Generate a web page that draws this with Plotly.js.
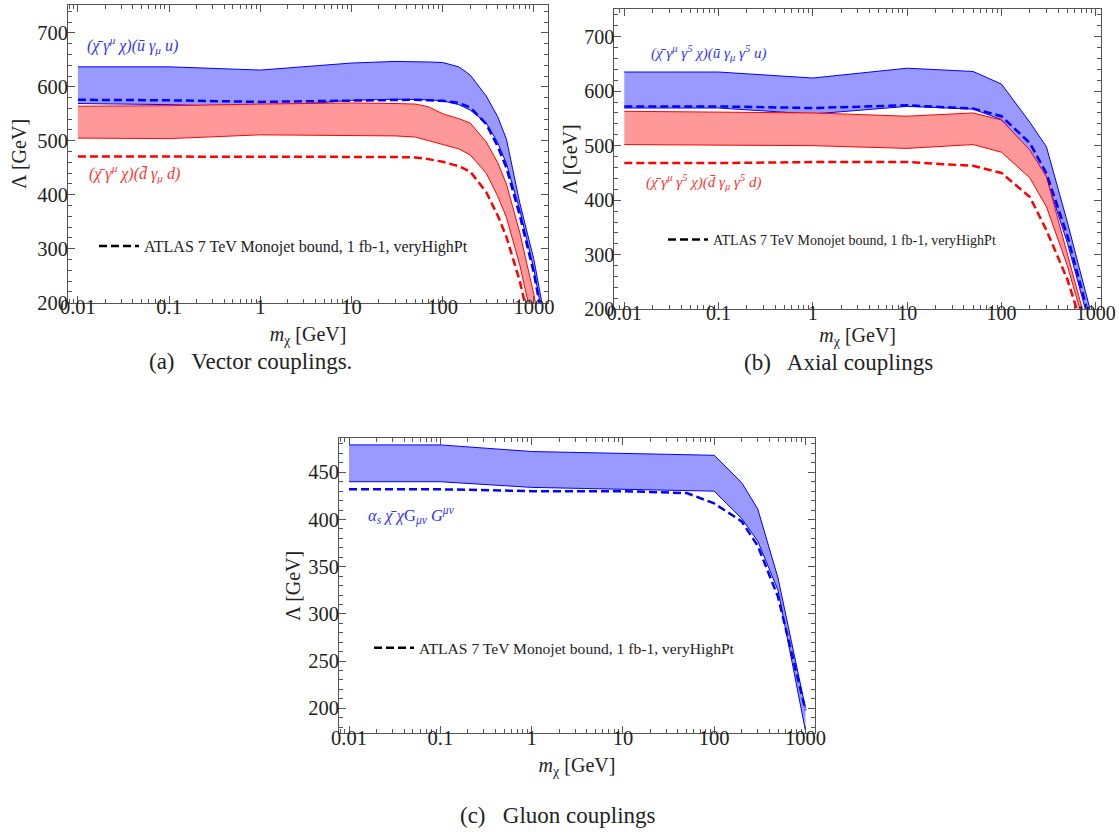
<!DOCTYPE html>
<html>
<head>
<meta charset="utf-8">
<script src="https://cdn.plot.ly/plotly-3.0.1.min.js"></script>
<style>
html,body{margin:0;padding:0;background:#fff;}
#chart{width:1119px;height:834px;}
</style>
</head>
<body>
<div id="chart"></div>
<script>
// ---------- Panel (a): vector couplings ----------
const mA = [0.01, 0.1, 1, 10, 30, 50, 70, 100, 150, 200, 300, 400, 500, 700, 1000, 1500];
const vecUUpper = [637, 637, 631, 644, 647, 647, 646, 645, 637, 622, 583, 545, 503, 385, 280, 120];
const vecULower = [569, 567, 562, 575, 577, 577, 576, 574, 567, 557, 533, 497, 458, 372, 262, 100];
const vecUAtlas = [576, 575, 572, 575, 576, 576, 575, 574, 570, 562, 531, 490, 450, 362, 255, 95];
const vecDUpper = [564, 565, 568, 570, 569, 568, 563, 550, 541, 533, 498, 460, 420, 330, 215, 60];
const vecDLower = [505, 504, 511, 510, 509, 507, 500, 492, 485, 474, 440, 398, 358, 270, 160, 20];
const vecDAtlas = [471, 471, 471, 471, 470, 469, 466, 461, 453, 443, 405, 362, 322, 240, 130, 0];

// ---------- Panel (b): axial couplings ----------
const mB = [0.01, 0.1, 1, 10, 50, 100, 200, 300, 500, 1000];
const axUUpper = [635, 635, 624, 642, 636, 613, 543, 498, 360, 160];
const axULower = [569, 569, 558, 572, 567, 548, 488, 440, 322, 130];
const axUAtlas = [572, 572, 569, 574, 568, 554, 505, 449, 335, 140];
const axDUpper = [563, 561, 560, 554, 560, 547, 492, 443, 305, 110];
const axDLower = [502, 501, 500, 495, 502, 488, 441, 388, 280, 100];
const axDAtlas = [468, 468, 470, 470, 463, 450, 406, 345, 255, 90];

// ---------- Panel (c): gluon couplings ----------
const mC = [0.01, 0.1, 1, 10, 100, 200, 300, 500, 1000];
const gUpper = [479, 479, 472, 470, 468, 439, 411, 338, 200];
const gLower = [440, 440, 434, 432, 430, 401, 377, 325, 176];
const mCAtlas = [0.01, 0.1, 1, 10, 50, 100, 200, 300, 500, 1000];
const gAtlas = [432, 432, 430, 430, 428, 417, 398, 372, 318, 198];

// ---------- Text ----------
const xTickVals = [0.01, 0.1, 1, 10, 100, 1000];
const xTickText = ['0.01', '0.1', '1', '10', '100', '1000'];
const legendName = 'ATLAS 7 TeV Monojet bound, 1 fb-1, veryHighPt';
const labelVecU = '<i>(χ̄ γ<sup>μ</sup> χ)(ū γ<sub>μ</sub> u)</i>';
const labelVecD = '<i>(χ̄ γ<sup>μ</sup> χ)(d̄ γ<sub>μ</sub> d)</i>';
const labelAxU = '<i>(χ̄ γ<sup>μ</sup> γ<sup>5</sup> χ)(ū γ<sub>μ</sub> γ<sup>5</sup> u)</i>';
const labelAxD = '<i>(χ̄ γ<sup>μ</sup> γ<sup>5</sup> χ)(d̄ γ<sub>μ</sub> γ<sup>5</sup> d)</i>';
const labelGlu = '<i>α<sub>s</sub> χ̄ χ</i>G<sub><i>μν</i></sub> <i>G<sup>μν</sup></i>';
const xTitle = '<i>m</i><sub>χ</sub> [GeV]';
const yTitle = 'Λ [GeV]';
const captions = ['(a)   Vector couplings.', '(b)   Axial couplings', '(c)   Gluon couplings'];

const FONT = 'Liberation Serif, Times New Roman, serif';
const BLUE = '#0000ff', RED = '#ff0000';
const BLUEFILL = 'rgba(153,153,255,1)', REDFILL = 'rgba(255,153,153,1)';
const FRAME = '#555555';

// minor tick positions (2..9 per decade)
const minorLog = [];
for (let e = -3; e <= 3; e++) for (let k = 2; k <= 9; k++) minorLog.push(k * Math.pow(10, e));

function band(x, lo, up, line, fill, xa, ya) {
  return [
    {x: x, y: lo, xaxis: xa, yaxis: ya, type: 'scatter', mode: 'lines', line: {color: line, width: 1}, showlegend: false, hoverinfo: 'skip'},
    {x: x, y: up, xaxis: xa, yaxis: ya, type: 'scatter', mode: 'lines', line: {color: line, width: 1}, fill: 'tonexty', fillcolor: fill, showlegend: false, hoverinfo: 'skip'}
  ];
}
function dashed(x, y, color, xa, ya) {
  return {x: x, y: y, xaxis: xa, yaxis: ya, type: 'scatter', mode: 'lines', line: {color: color, width: 2.5, dash: '8px,4px'}, showlegend: false};
}
function legendTrace(xa, ya, leg) {
  return {x: [null], y: [null], xaxis: xa, yaxis: ya, type: 'scatter', mode: 'lines', name: legendName, legend: leg, showlegend: true, line: {color: '#000', width: 2.5, dash: '8px,4px'}};
}

const data = [].concat(
  band(mA, vecULower, vecUUpper, BLUE, BLUEFILL, 'x', 'y'),
  band(mA, vecDLower, vecDUpper, RED, REDFILL, 'x', 'y'),
  [dashed(mA, vecUAtlas, BLUE, 'x', 'y'), dashed(mA, vecDAtlas, RED, 'x', 'y'), legendTrace('x4', 'y4', 'legend')],
  band(mB, axULower, axUUpper, BLUE, BLUEFILL, 'x2', 'y2'),
  band(mB, axDLower, axDUpper, RED, REDFILL, 'x2', 'y2'),
  [dashed(mB, axUAtlas, BLUE, 'x2', 'y2'), dashed(mB, axDAtlas, RED, 'x2', 'y2'), legendTrace('x5', 'y5', 'legend2')],
  band(mC, gLower, gUpper, BLUE, BLUEFILL, 'x3', 'y3'),
  [dashed(mCAtlas, gAtlas, BLUE, 'x3', 'y3'), legendTrace('x6', 'y6', 'legend3')]
);

const W = 1119, H = 834;
const px = v => v / W, py = v => 1 - v / H;

// frame axes (ticks on all four sides, no labels)
function xFrame(domain, range, anchor) {
  return {
    type: 'log', domain: domain, range: range, anchor: anchor,
    tickmode: 'array', tickvals: xTickVals, showticklabels: false,
    ticks: 'inside', ticklen: 7, tickwidth: 1, tickcolor: FRAME,
    showline: true, linecolor: FRAME, linewidth: 1, mirror: 'allticks',
    showgrid: false, zeroline: false,
    minor: {tickmode: 'array', tickvals: minorLog, ticks: 'inside', ticklen: 4, tickcolor: FRAME, showgrid: false},
    automargin: false
  };
}
function yFrame(domain, range, anchor, dtick, minorDtick) {
  return {
    domain: domain, range: range, anchor: anchor, dtick: dtick, tick0: 0, showticklabels: false,
    ticks: 'inside', ticklen: 7, tickwidth: 1, tickcolor: FRAME,
    showline: true, linecolor: FRAME, linewidth: 1, mirror: 'allticks',
    showgrid: false, zeroline: false,
    minor: {dtick: minorDtick, ticks: 'inside', ticklen: 4, tickcolor: FRAME, showgrid: false},
    automargin: false
  };
}
// label axes overlaid on the frame, nudged toward the frame like the reference
function xLabels(base, range, posPx, size, standoff) {
  return {
    type: 'log', overlaying: base, anchor: 'free', position: py(posPx), side: 'bottom', range: range,
    tickmode: 'array', tickvals: xTickVals, ticktext: xTickText, ticks: '', showline: false,
    showgrid: false, zeroline: false,
    tickfont: {family: FONT, size: size, color: '#222'},
    title: {text: xTitle, font: {family: FONT, size: 20, color: '#222'}, standoff: standoff},
    automargin: false
  };
}
function yLabels(base, range, posPx, dtick, size, standoff) {
  return {
    overlaying: base, anchor: 'free', position: px(posPx), side: 'left', range: range,
    dtick: dtick, tick0: 0, ticks: '', showline: false,
    showgrid: false, zeroline: false,
    tickfont: {family: FONT, size: size, color: '#222'},
    title: {text: yTitle, font: {family: FONT, size: 20, color: '#222'}, standoff: standoff},
    automargin: false
  };
}

function legendBox(x, y, size) {
  return {x: px(x), y: py(y), xanchor: 'left', yanchor: 'middle', bgcolor: 'rgba(0,0,0,0)', borderwidth: 0,
          font: {family: FONT, size: size, color: '#222'}, itemwidth: 40, tracegroupgap: 0};
}

const rA = {x: [-2.11, 3.157], y: [200, 751]};
const rB = {x: [-2.106, 3.056], y: [200, 750]};
const rC = {x: [-2.11, 3.104], y: [173.5, 486]};

const layout = {
  width: W, height: H,
  margin: {l: 0, r: 0, t: 0, b: 0},
  paper_bgcolor: '#fff', plot_bgcolor: '#fff',
  showlegend: true,
  xaxis: xFrame([px(67.9), px(548.2)], rA.x, 'y'),
  yaxis: yFrame([py(302.7), py(5.3)], rA.y, 'x', 100, 20),
  xaxis2: xFrame([px(614.3), px(1101)], rB.x, 'y2'),
  yaxis2: yFrame([py(309.3), py(9.3)], rB.y, 'x2', 100, 20),
  xaxis3: xFrame([px(339), px(815)], rC.x, 'y3'),
  yaxis3: yFrame([py(733.3), py(438.3)], rC.y, 'x3', 50, 10),
  xaxis4: xLabels('x', rA.x, 302.7 - 10, 20.5, 9),
  yaxis4: yLabels('y', rA.y, 67.9, 100, 20.5, 4),
  xaxis5: xLabels('x2', rB.x, 309.3 - 10, 20, 4),
  yaxis5: yLabels('y2', rB.y, 614.3, 100, 20, 0),
  xaxis6: xLabels('x3', rC.x, 733.3 - 10, 20.5, 10),
  yaxis6: yLabels('y3', rC.y, 339, 50, 20.5, 1),
  legend: legendBox(94, 246, 16),
  legend2: legendBox(663, 240, 14),
  legend3: legendBox(369, 648, 15.6),
  annotations: [
    {text: labelVecU, x: px(85), y: py(45), xref: 'paper', yref: 'paper', xanchor: 'left', yanchor: 'middle', showarrow: false, font: {family: FONT, size: 16, color: '#3333ff'}},
    {text: labelVecD, x: px(87), y: py(173), xref: 'paper', yref: 'paper', xanchor: 'left', yanchor: 'middle', showarrow: false, font: {family: FONT, size: 16, color: '#ff3333'}},
    {text: labelAxU, x: px(649), y: py(53), xref: 'paper', yref: 'paper', xanchor: 'left', yanchor: 'middle', showarrow: false, font: {family: FONT, size: 15, color: '#3333ff'}},
    {text: labelAxD, x: px(644), y: py(182), xref: 'paper', yref: 'paper', xanchor: 'left', yanchor: 'middle', showarrow: false, font: {family: FONT, size: 15, color: '#ff3333'}},
    {text: labelGlu, x: px(366), y: py(515), xref: 'paper', yref: 'paper', xanchor: 'left', yanchor: 'middle', showarrow: false, font: {family: FONT, size: 16.5, color: '#3333ff'}},
    {text: captions[0], x: px(250), y: py(361), xref: 'paper', yref: 'paper', xanchor: 'center', yanchor: 'middle', showarrow: false, font: {family: FONT, size: 23, color: '#222'}},
    {text: captions[1], x: px(838), y: py(362), xref: 'paper', yref: 'paper', xanchor: 'center', yanchor: 'middle', showarrow: false, font: {family: FONT, size: 23, color: '#222'}},
    {text: captions[2], x: px(558), y: py(815), xref: 'paper', yref: 'paper', xanchor: 'center', yanchor: 'middle', showarrow: false, font: {family: FONT, size: 23, color: '#222'}}
  ]
};

Plotly.newPlot('chart', data, layout, {staticPlot: true, displayModeBar: false});
</script>
</body>
</html>
